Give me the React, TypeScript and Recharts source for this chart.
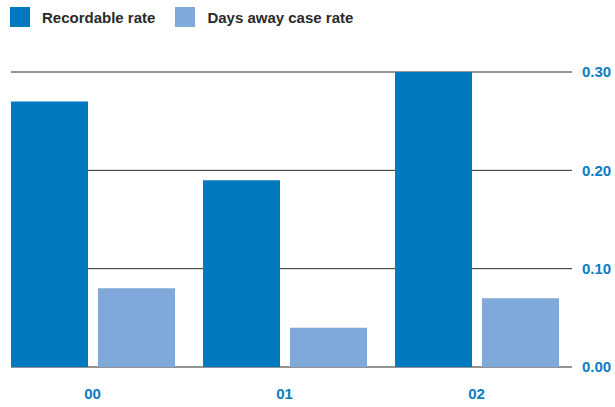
import React from "react";
import { BarChart, Bar, XAxis, YAxis, CartesianGrid } from "recharts";

// Safety rates by year
const years = ["00", "01", "02"];
const recordableRate = [0.27, 0.19, 0.3];
const daysAwayCaseRate = [0.08, 0.04, 0.07];
const yTicks = [0, 0.1, 0.2, 0.3];

const seriesNames = ["Recordable rate", "Days away case rate"];
const seriesColors = ["#0079C1", "#7FA9DA"];

const data = years.map((year, i) => ({
  year,
  recordable: recordableRate[i],
  daysAway: daysAwayCaseRate[i],
}));

const FONT = "'Liberation Sans', Arial, Helvetica, sans-serif";
const BLUE_TEXT = "#0A7DC2";

export default function App() {
  return (
    <div
      style={{
        position: "fixed",
        left: 0,
        top: 0,
        width: 615,
        height: 407,
        background: "#fff",
        fontFamily: FONT,
      }}
    >
      <div
        style={{
          position: "absolute",
          left: 10,
          top: 7,
          display: "flex",
          alignItems: "center",
          fontSize: 15,
          fontWeight: 700,
          color: "#2a2a2a",
        }}
      >
        {seriesNames.map((name, i) => (
          <div key={name} style={{ display: "flex", alignItems: "center", marginRight: i === 0 ? 20 : 0 }}>
            <span
              style={{
                display: "inline-block",
                width: 20,
                height: 20,
                background: seriesColors[i],
                marginRight: 12,
              }}
            />
            <span>{name}</span>
          </div>
        ))}
      </div>
      <BarChart
        width={615}
        height={407}
        data={data}
        margin={{ top: 72, right: 0, bottom: 10, left: 11 }}
        barCategoryGap={14.5}
        barGap={10}
      >
        <CartesianGrid vertical={false} stroke="#2b2b2b" strokeWidth={1} />
        <XAxis
          dataKey="year"
          axisLine={false}
          tickLine={false}
          height={30}
          tickMargin={15}
          padding={{ left: -14.5, right: -0.5 }}
          tick={{ fill: BLUE_TEXT, fontSize: 15, fontWeight: 700, fontFamily: FONT }}
        />
        <YAxis
          orientation="right"
          width={43}
          domain={[0, 0.3]}
          ticks={yTicks}
          axisLine={false}
          tickLine={false}
          tickMargin={4}
          tickFormatter={(v: number) => v.toFixed(2)}
          tick={{ fill: BLUE_TEXT, fontSize: 15, fontWeight: 700, fontFamily: FONT }}
        />
        <Bar dataKey="recordable" fill={seriesColors[0]} isAnimationActive={false} />
        <Bar dataKey="daysAway" fill={seriesColors[1]} isAnimationActive={false} />
      </BarChart>
    </div>
  );
}
